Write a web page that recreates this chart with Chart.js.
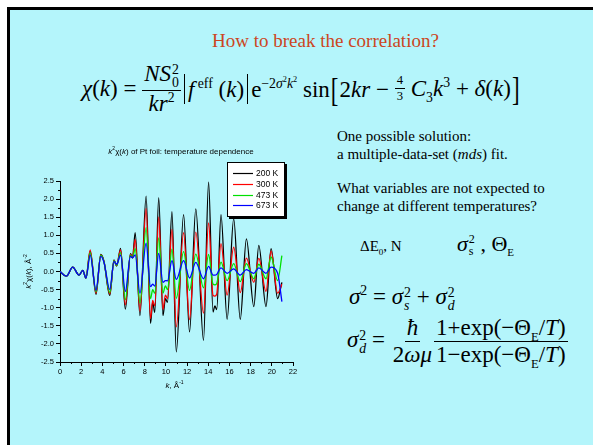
<!DOCTYPE html>
<html>
<head>
<meta charset="utf-8">
<script src="https://cdn.jsdelivr.net/npm/chart.js@4.4.0/dist/chart.umd.min.js"></script>
<style>
  html, body { margin: 0; padding: 0; background: #fff; }
  body { width: 593px; height: 445px; overflow: hidden; position: relative; color: #000; }
  #slide { position: absolute; left: 7px; top: 7px; width: 620px; height: 470px;
           background: #b4f5fb; border-left: 3px solid #000; border-top: 3px solid #000; }
  .t { position: absolute; white-space: nowrap; line-height: 1;
       font-family: "Liberation Serif", "Times New Roman", "DejaVu Serif", serif; }
  .frac { display: inline-flex; flex-direction: column; align-items: center; vertical-align: middle; line-height: 1.05; }
  .frac > span:first-child { border-bottom: 1px solid #000; padding: 0 2px 1px; }
  .frac > span:last-child { padding: 1px 2px 0; }
  .sm { font-size: 0.55em; }
  .ss { display: inline-flex; flex-direction: column; font-size: 0.6em; line-height: 0.95; vertical-align: middle; margin-left: 1px; }
  sup, sub { font-size: 0.6em; line-height: 0; }
  .bar { display: inline-block; width: 0; height: 1.3em; border-left: 1px solid #000; vertical-align: -0.3em; margin: 0 3px; }
  .br { display: inline-block; transform: scale(1, 1.5); margin: 0 1px; }
  #chartBox { position: absolute; left: 0; top: 140px; }
</style>
</head>
<body>
<div id="slide"></div>

<div class="t" style="left:212px; top:31px; font-size:19px; color:#cc4522;">How to break the correlation?</div>

<div class="t" style="left:82px; top:62px; font-size:23px; display:flex; align-items:center;">
  <span><i>χ</i>(<i>k</i>) =&nbsp;</span>
  <span class="frac"><span><i>NS</i><span class="ss"><span>2</span><span>0</span></span></span><span><i>kr</i><sup>2</sup></span></span>
  <span><span class="bar"></span><i>f</i><sup>&nbsp;eff</sup>&nbsp;(<i>k</i>)<span class="bar"></span>e<sup>−2<i>σ</i><sup>2</sup><i>k</i><sup>2</sup></sup>&nbsp;sin<span class="br">[</span>2<i>kr</i> −&nbsp;</span>
  <span class="frac sm"><span>4</span><span>3</span></span>
  <span>&nbsp;<i>C</i><sub>3</sub><i>k</i><sup>3</sup> + <i>δ</i>(<i>k</i>)<span class="br">]</span></span>
</div>

<div class="t" style="left:337px; top:127px; font-size:15px; line-height:18px;">One possible solution:<br>a multiple-data-set (<i>mds</i>) fit.</div>
<div class="t" style="left:337px; top:179px; font-size:15px; line-height:18px;">What variables are not expected to<br>change at different temperatures?</div>

<div class="t" style="left:360px; top:239px; font-size:15px;">ΔE<sub>0</sub>, N</div>
<div class="t" style="left:457px; top:233px; font-size:22px;"><i>σ</i><span class="ss" style="font-size:0.55em;"><span>2</span><span>s</span></span> , Θ<sub style="font-size:0.5em;">E</sub></div>

<div class="t" style="left:349px; top:285px; font-size:23px;"><i>σ</i><sup>2</sup> = <i>σ</i><span class="ss"><span>2</span><span><i>s</i></span></span> + <i>σ</i><span class="ss"><span>2</span><span><i>d</i></span></span></div>

<div class="t" style="left:347px; top:316px; font-size:23px; display:flex; align-items:center;">
  <span><i>σ</i><span class="ss"><span>2</span><span><i>d</i></span></span> =&nbsp;</span>
  <span class="frac"><span><i>ħ</i></span><span>2<i>ωμ</i></span></span>
  <span class="frac"><span>1+exp(−Θ<sub style="font-size:0.55em;">E</sub>/<i>T</i>)</span><span>1−exp(−Θ<sub style="font-size:0.55em;">E</sub>/<i>T</i>)</span></span>
</div>

<canvas id="chartBox" width="300" height="260"></canvas>

<script>
// k grid (Å^-1) at the turning points of the oscillations
const kValues = [0.0, 0.6, 1.2, 1.8, 2.15, 2.45, 2.85, 3.4, 3.85, 4.15, 4.7, 5.1, 5.35, 5.72,
  6.17, 6.65, 6.85, 7.1, 7.55, 8.13, 8.55, 8.75, 8.95, 9.32, 9.72, 9.95, 10.15, 10.57, 10.98,
  11.67, 12.23, 12.82, 13.55, 14.03, 14.45, 14.62, 14.8, 15.2, 15.78, 16.4, 17.02, 17.6, 18.3,
  18.77, 19.45, 19.93, 20.55, 20.95];

// k^2 chi(k), Å^-2, one list per temperature
const chi200K = [0.0, -0.13, 0.12, -0.1, 0.03, -0.18, 0.56, -0.63, 0.47, 0.28, -0.66, 0.32, 0.15, 0.64,
  -1.04, 0.49, 0.38, 1.07, -1.22, 2.08, -1.43, -0.85, -1.13, 2.04, -1.22, -0.75, -0.85, 1.65, -2.22,
  1.57, -1.67, 1.73, -1.9, 2.47, -1.12, -0.95, -1.05, 1.57, -1.32, 1.46, -1.32, 0.9, -0.97,
  0.72, -0.97, 0.63, -0.75, -0.3];
const chi300K = [0.0, -0.13, 0.12, -0.1, 0.03, -0.18, 0.6, -0.6, 0.46, 0.28, -0.62, 0.31, 0.16, 0.6,
  -0.92, 0.47, 0.38, 0.89, -1.1, 1.74, -1.3, -0.8, -0.95, 1.51, -1.05, -0.65, -0.75, 1.16, -1.53,
  1.07, -1.33, 1.09, -1.15, 1.34, -0.66, -0.68, -0.62, 0.77, -0.65, 0.67, -0.58, 0.37, -0.3,
  0.36, -0.55, 0.56, -0.6, -0.35];
const chi473K = [0.0, -0.13, 0.12, -0.1, 0.03, -0.18, 0.52, -0.56, 0.45, 0.27, -0.58, 0.3, 0.17, 0.52,
  -0.78, 0.45, 0.38, 0.63, -0.87, 1.21, -0.75, -0.5, -0.6, 0.93, -0.6, -0.4, -0.5, 0.62, -0.74,
  0.55, -0.52, 0.48, -0.45, 0.47, -0.35, -0.37, -0.33, 0.26, -0.25, 0.22, -0.28, 0.22, -0.2,
  0.2, -0.2, 0.4, -0.25, 0.44];
const chi673K = [0.0, -0.13, 0.12, -0.1, 0.03, -0.18, 0.45, -0.52, 0.42, 0.26, -0.5, 0.28, 0.2, 0.45,
  -0.55, 0.42, 0.38, 0.46, -0.6, 0.78, -0.42, -0.35, -0.4, 0.5, -0.3, -0.25, -0.26, 0.3, -0.22,
  0.3, -0.18, 0.25, -0.2, 0.14, -0.1, -0.1, -0.08, 0.1, -0.05, 0.07, -0.1, 0.05, -0.05,
  0.1, -0.05, 0.12, -0.05, -0.83];

const seriesLabels = ["200 K", "300 K", "473 K", "673 K"];
const seriesColors = ["#000000", "#ff0000", "#00e000", "#0000ff"];
const seriesValues = [chi200K, chi300K, chi473K, chi673K];

// draws a run of text pieces with their own fonts / baseline shifts
function drawRich(ctx, parts, x, y, align) {
  let total = 0;
  parts.forEach(([text, font]) => { ctx.font = font; total += ctx.measureText(text).width; });
  let cx = align === "center" ? x - total / 2 : x;
  parts.forEach(([text, font, dy]) => {
    ctx.font = font;
    ctx.fillText(text, cx, y + (dy || 0));
    cx += ctx.measureText(text).width;
  });
}

const decorations = {
  id: "decorations",
  afterDraw(chart) {
    const { ctx, chartArea: a, scales } = chart;
    const xs = scales.x, ys = scales.y;
    ctx.save();
    ctx.strokeStyle = "#000";
    ctx.fillStyle = "#000";
    ctx.lineWidth = 1;

    // minor ticks
    ctx.beginPath();
    for (let v = -2.25; v < 2.5; v += 0.5) {
      const py = Math.round(ys.getPixelForValue(v)) + 0.5;
      ctx.moveTo(a.left - 2, py); ctx.lineTo(a.left, py);
    }
    for (let v = 1; v < 22; v += 2) {
      const px = Math.round(xs.getPixelForValue(v)) + 0.5;
      ctx.moveTo(px, a.bottom); ctx.lineTo(px, a.bottom + 2);
    }
    ctx.stroke();

    ctx.textBaseline = "middle";
    const f = "px Arial";
    // chart title
    drawRich(ctx, [
      ["k", "italic 8" + f], ["2", "5" + f, -3], ["χ(", "8" + f], ["k", "italic 8" + f],
      [") of Pt foil: temperature dependence", "8" + f]
    ], 181, 12, "center");

    // x axis title
    drawRich(ctx, [["k", "italic 8" + f], [", Å", "8" + f], ["-1", "5" + f, -3]],
      (a.left + a.right) / 2 - 2, a.bottom + 24, "center");

    // y axis title
    ctx.save();
    ctx.translate(29, (a.top + a.bottom) / 2);
    ctx.rotate(-Math.PI / 2);
    drawRich(ctx, [
      ["k", "italic 8" + f], ["2", "5" + f, -3], ["χ(", "8" + f], ["k", "italic 8" + f],
      ["), Å", "8" + f], ["-2", "5" + f, -3]
    ], 0, 0, "center");
    ctx.restore();

    // legend box
    const lw = 58, lh = 55;
    const lx = a.right - 66, ly = a.top - 19;
    ctx.fillRect(lx + 2, ly + 2, lw, lh);
    ctx.fillStyle = "#fff";
    ctx.fillRect(lx, ly, lw, lh);
    ctx.strokeRect(lx + 0.5, ly + 0.5, lw - 1, lh - 1);
    ctx.font = "8.5" + f;
    chart.data.datasets.forEach((ds, i) => {
      const ry = Math.round(ly + 11 + i * 10.8) + 0.5;
      ctx.strokeStyle = ds.borderColor;
      ctx.lineWidth = 1.2;
      ctx.beginPath();
      ctx.moveTo(lx + 6, ry); ctx.lineTo(lx + 26, ry);
      ctx.stroke();
      ctx.fillStyle = "#000";
      ctx.fillText(ds.label, lx + 29, ry);
    });
    ctx.restore();
  }
};

new Chart(document.getElementById("chartBox"), {
  type: "line",
  data: {
    datasets: seriesLabels.map((label, i) => ({
      label: label,
      data: kValues.map((k, j) => ({ x: k, y: seriesValues[i][j] })),
      borderColor: seriesColors[i],
      borderWidth: 1.3,
      pointRadius: 0,
      fill: false,
      cubicInterpolationMode: "monotone",
      order: seriesLabels.length - i
    }))
  },
  options: {
    responsive: false,
    animation: false,
    layout: { padding: { top: 41, left: 0, right: 7, bottom: 0 } },
    plugins: { legend: { display: false }, title: { display: false }, tooltip: { enabled: false } },
    scales: {
      x: {
        type: "linear", min: 0, max: 22,
        afterFit(s) { s.height = 38; },
        ticks: { stepSize: 2, color: "#000", font: { family: "Arial", size: 7.5 }, padding: 1, maxRotation: 0 },
        grid: { drawOnChartArea: false, tickLength: 4, color: "#000" },
        border: { color: "#000", width: 1 }
      },
      y: {
        min: -2.5, max: 2.5,
        afterFit(s) { s.width = 60; },
        ticks: { stepSize: 0.5, color: "#000", font: { family: "Arial", size: 7.5 }, padding: 2,
                 callback: v => v.toFixed(1) },
        grid: { drawOnChartArea: false, tickLength: 4, color: "#000" },
        border: { color: "#000", width: 1 }
      }
    }
  },
  plugins: [decorations]
});
</script>
</body>
</html>
